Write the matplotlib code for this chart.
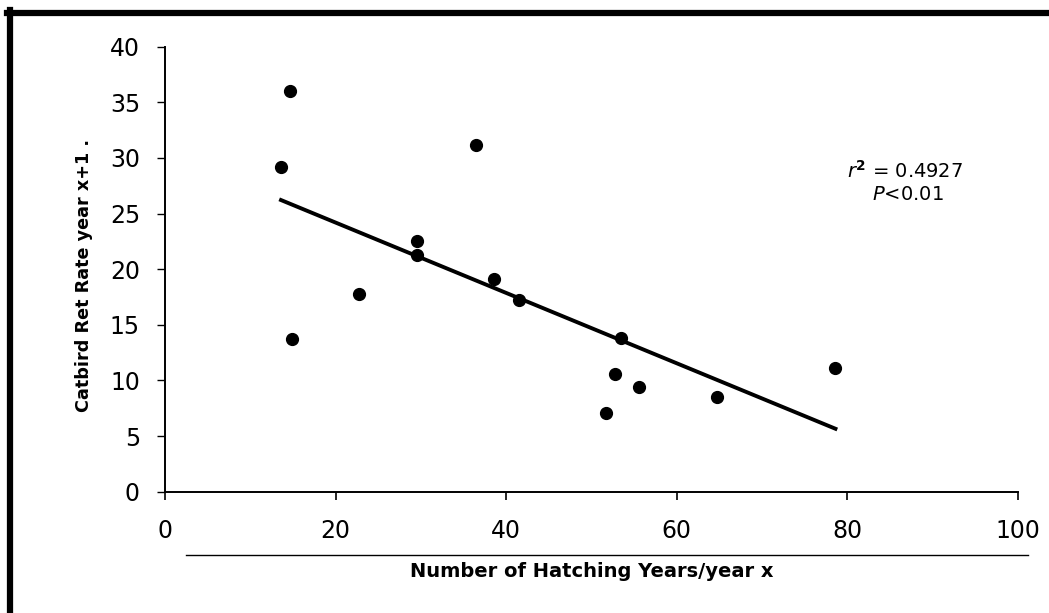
import matplotlib
matplotlib.use("Agg")
import matplotlib.pyplot as plt
from matplotlib.lines import Line2D
import numpy as np

# data
hatch_years = [13.6, 14.6, 14.85, 22.7, 29.6, 29.6, 36.5, 38.6, 41.5,
               51.7, 52.7, 53.4, 55.6, 64.7, 78.6]
ret_rate = [29.2, 36.0, 13.7, 17.8, 22.55, 21.3, 31.2, 19.1, 17.2,
            7.1, 10.6, 13.8, 9.4, 8.5, 11.1]
x_ticks = [0, 20, 40, 60, 80, 100]
y_ticks = [0, 5, 10, 15, 20, 25, 30, 35, 40]

########################################################################

fig = plt.figure(figsize=(10.49, 6.13), dpi=100)
ax = fig.add_axes([165 / 1049, 1 - 491.7 / 613, 853 / 1049, 445 / 613])

ax.plot(hatch_years, ret_rate, "o", color="black", ms=8.5, zorder=3)

# least squares trend line over the data range
slope, icept = np.polyfit(hatch_years, ret_rate, 1)
xs = np.array([min(hatch_years), max(hatch_years)])
ax.plot(xs, slope * xs + icept, color="black", lw=2.8, zorder=2)

ax.set_xlim(0, 100)
ax.set_ylim(0, 40)
ax.set_xticks(x_ticks)
ax.set_yticks(y_ticks)
for side in ("top", "right"):
    ax.spines[side].set_visible(False)
for side in ("left", "bottom"):
    ax.spines[side].set_linewidth(1.4)
ax.tick_params(axis="x", direction="out", length=6, width=1.2, pad=14,
               labelsize=17)
ax.tick_params(axis="y", direction="out", length=6, width=1.0, pad=12,
               labelsize=17)

ax.set_xlabel("Number of Hatching Years/year x", fontsize=14,
              fontweight="bold", labelpad=13)
ax.set_ylabel("Catbird Ret Rate year x+1 .", fontsize=12.7,
              fontweight="bold")
ax.yaxis.set_label_coords(-0.084, 0.485)

ax.text(0.80, 0.72, r"$\mathit{r}^{\mathbf{2}}$ = 0.4927",
        transform=ax.transAxes, fontsize=14, ha="left", va="center")
ax.text(0.829, 0.668, r"$\mathit{P}$<0.01", transform=ax.transAxes,
        fontsize=14, ha="left", va="center")

# cropped frame around the figure and the rule below the tick labels
fig.add_artist(Line2D([10 / 1049, 10 / 1049], [0, 1 - 10 / 613],
                      color="black", lw=4.5))
fig.add_artist(Line2D([7 / 1049, 1], [1 - 13 / 613, 1 - 13 / 613],
                      color="black", lw=4.5))
fig.add_artist(Line2D([186 / 1049, 1028 / 1049], [1 - 555 / 613, 1 - 555 / 613],
                      color="black", lw=1.0))

fig.savefig("out.png", dpi=100)
